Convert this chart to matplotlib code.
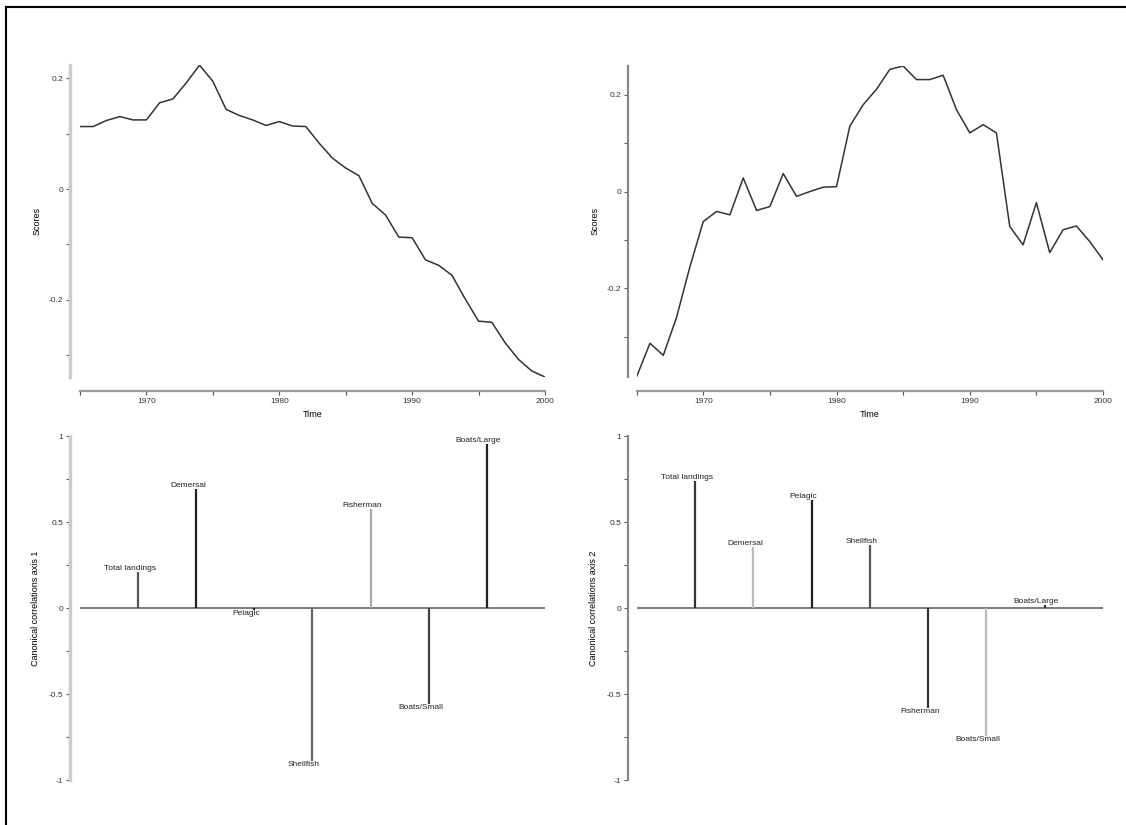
import numpy as np
import matplotlib
matplotlib.use("Agg")
import matplotlib.pyplot as plt
from matplotlib.lines import Line2D
from matplotlib.ticker import FixedLocator

plt.rcParams['font.family'] = ['Liberation Sans', 'DejaVu Sans']
plt.rcParams['axes.unicode_minus'] = False

# scores of the two canonical axes, one value per year
years = np.arange(1965, 2001)
scores_1 = [0.113, 0.113, 0.124, 0.131, 0.125, 0.125, 0.156, 0.163, 0.192, 0.224,
            0.195, 0.144, 0.133, 0.125, 0.115, 0.122, 0.114, 0.113, 0.083, 0.056,
            0.038, 0.024, -0.026, -0.047, -0.087, -0.088, -0.128, -0.138, -0.156, -0.199,
            -0.239, -0.241, -0.278, -0.308, -0.329, -0.340]
scores_2 = [-0.382, -0.313, -0.338, -0.259, -0.155, -0.062, -0.041, -0.048, 0.028, -0.039,
            -0.031, 0.037, -0.010, 0.000, 0.009, 0.010, 0.135, 0.179, 0.211, 0.252,
            0.259, 0.231, 0.231, 0.240, 0.169, 0.121, 0.138, 0.121, -0.072, -0.110,
            -0.023, -0.126, -0.079, -0.071, -0.103, -0.141]

variables = ["Total landings", "Demersal", "Pelagic", "Shellfish",
             "Fisherman", "Boats/Small", "Boats/Large"]
corr_1 = [0.207, 0.692, -0.01, -0.888, 0.576, -0.558, 0.953]
corr_2 = [0.740, 0.356, 0.628, 0.368, -0.581, -0.742, 0.02]

# grey level of each stick
shades_1 = ["#555555", "#222222", "#222222", "#666666", "#aaaaaa", "#444444", "#222222"]
shades_2 = ["#333333", "#bbbbbb", "#222222", "#555555", "#333333", "#bbbbbb", "#333333"]

fig = plt.figure(figsize=(11.26, 8.25), dpi=100)

tick_kw = dict(labelsize=6, length=3, width=0.8, colors="#555555", labelcolor="#333333", pad=2)


def style_axes(ax, ycol, ywidth, ypad):
    for s in ["top", "right"]:
        ax.spines[s].set_visible(False)
    ax.spines["left"].set_position(("outward", ypad))
    ax.spines["left"].set_color(ycol)
    ax.spines["left"].set_linewidth(ywidth)
    ax.tick_params(axis="both", which="both", **tick_kw)
    ax.patch.set_visible(False)


def score_panel(rect, vals, ycol, ywidth, ypad):
    ax = fig.add_axes(rect)
    ax.plot(years, vals, color="#333333", lw=1.1)
    ax.set_xlim(1965, 2000)
    ax.set_ylim(min(vals), max(vals))
    style_axes(ax, ycol, ywidth, ypad)
    ax.spines["bottom"].set_position(("outward", 10))
    ax.spines["bottom"].set_color("#999999")
    ax.spines["bottom"].set_linewidth(1.6)
    ax.xaxis.set_major_locator(FixedLocator([1970, 1980, 1990, 2000]))
    ax.xaxis.set_minor_locator(FixedLocator([1965, 1975, 1985, 1995]))
    ax.yaxis.set_major_locator(FixedLocator([-0.2, 0, 0.2]))
    ax.yaxis.set_minor_locator(FixedLocator([-0.3, -0.1, 0.1]))
    ax.set_yticklabels(["-0.2", "0", "0.2"])
    ax.set_xlabel("Time", fontsize=6.5, labelpad=4)
    ax.set_ylabel("Scores", fontsize=6.5, labelpad=5)
    return ax


def corr_panel(rect, vals, shades, axis_no, ycol, ywidth, ypad):
    ax = fig.add_axes(rect)
    xs = np.arange(1, len(vals) + 1)
    ax.axhline(0, color="#666666", lw=1.2)
    ax.vlines(xs, 0, vals, colors=shades, lw=1.6)
    for x, v, name in zip(xs, vals, variables):
        ax.annotate(name, (x, v), xytext=(-6, 2.5 if v > 0 else -2.5),
                    textcoords="offset points", ha="center", va="center",
                    fontsize=6, color="#222222")
    ax.set_xlim(0, 8)
    ax.set_ylim(-1, 1)
    style_axes(ax, ycol, ywidth, ypad)
    ax.spines["bottom"].set_visible(False)
    ax.set_xticks([])
    ax.yaxis.set_major_locator(FixedLocator([-1, -0.5, 0, 0.5, 1]))
    ax.yaxis.set_minor_locator(FixedLocator([-0.75, -0.25, 0.25, 0.75]))
    ax.set_yticklabels(["-1", "-0.5", "0", "0.5", "1"])
    ax.set_ylabel("Canonical correlations axis %d" % axis_no, fontsize=6.5, labelpad=6)
    return ax


score_panel([0.071, 0.543, 0.413, 0.378], scores_1, "#cccccc", 2.4, 7)
score_panel([0.5654, 0.5434, 0.4142, 0.3766], scores_2, "#888888", 1.6, 6)
corr_panel([0.071, 0.0545, 0.413, 0.417], corr_1, shades_1, 1, "#cccccc", 2.4, 7)
corr_panel([0.5654, 0.0545, 0.4142, 0.417], corr_2, shades_2, 2, "#888888", 1.6, 6)

# frame on the left and top edge
fig.add_artist(Line2D([0.0055, 0.0055], [0.0, 0.991], color="black", lw=1.5))
fig.add_artist(Line2D([0.0055, 1.0], [0.991, 0.991], color="black", lw=1.5))

fig.savefig("out.png", dpi=100, facecolor="white")
